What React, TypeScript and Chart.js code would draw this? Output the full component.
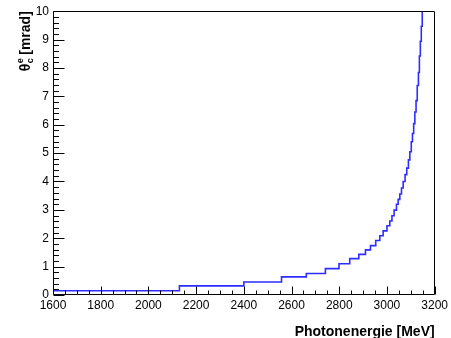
import React, { useEffect, useRef } from 'react';
import { Chart, registerables } from 'chart.js';

Chart.register(...registerables);

// Histogram bin edges (MeV) and the opening angle in each bin (mrad).
const binEdges = [
  1600, 2130, 2400, 2558, 2662, 2742, 2799, 2844, 2882, 2910, 2931, 2953, 2970, 2984,
  3000, 3012, 3021, 3030, 3040, 3047, 3054, 3061, 3068, 3076, 3083, 3090, 3096, 3102,
  3107, 3112, 3117, 3122, 3127, 3132, 3136, 3140, 3144, 3148, 3153,
];
const thetaValues = [
  0.15, 0.32, 0.46, 0.64, 0.76, 0.93, 1.1, 1.28, 1.43, 1.59, 1.74, 1.92, 2.09, 2.26,
  2.44, 2.61, 2.79, 2.99, 3.2, 3.37, 3.56, 3.77, 4.0, 4.24, 4.47, 4.76, 5.05, 5.4,
  5.69, 6.04, 6.45, 6.85, 7.38, 7.84, 8.42, 8.94, 9.47, 10.5,
];

const xRange = [1600, 3200];
const xMajorStep = 200;
const xMinorStep = 50;
const yRange = [0, 10];
const yMajorStep = 1;
const yMinorStep = 0.2;

const xTitle = 'Photonenergie [MeV]';
const yTitleSymbol = 'θ';
const yTitleSup = 'e';
const yTitleSub = 'c';
const yTitleUnit = ' [mrad]';

const FONT = "'Liberation Sans', Arial, Helvetica, sans-serif";

// Frame and inward-pointing tick marks on the bottom and left axes.
const framePlugin = {
  id: 'frameTicks',
  afterDatasetsDraw(chart: any) {
    const { ctx, chartArea: a, scales } = chart;
    const xs = scales.x;
    const ys = scales.y;
    const L = Math.round(a.left) + 0.5;
    const R = Math.round(a.right) - 0.5;
    const T = Math.round(a.top) + 0.5;
    const B = Math.round(a.bottom) - 0.5;
    ctx.save();
    ctx.strokeStyle = '#000';
    ctx.lineWidth = 1;
    ctx.beginPath();
    ctx.rect(L, T, R - L, B - T);
    const nx = Math.round((xRange[1] - xRange[0]) / xMinorStep);
    for (let i = 0; i <= nx; i++) {
      const v = xRange[0] + i * xMinorStep;
      const px = Math.round(xs.getPixelForValue(v)) + 0.5;
      const major = Math.abs((v - xRange[0]) % xMajorStep) < 1e-6;
      const len = major ? 8 : 4;
      ctx.moveTo(px, B);
      ctx.lineTo(px, B - len);
    }
    const ny = Math.round((yRange[1] - yRange[0]) / yMinorStep);
    for (let i = 0; i <= ny; i++) {
      const v = yRange[0] + i * yMinorStep;
      const py = Math.round(ys.getPixelForValue(v)) + 0.5;
      const major = i % Math.round(yMajorStep / yMinorStep) === 0;
      const len = major ? 11 : 5.5;
      ctx.moveTo(L, py);
      ctx.lineTo(L + len, py);
    }
    ctx.stroke();
    ctx.restore();
  },
  afterDraw(chart: any) {
    // Y axis title with super- and subscript on the theta.
    const { ctx, chartArea: a } = chart;
    const bigFont = `bold 14px ${FONT}`;
    const smallFont = `bold 9px ${FONT}`;
    ctx.save();
    ctx.font = bigFont;
    const wSym = ctx.measureText(yTitleSymbol).width;
    const wUnit = ctx.measureText(yTitleUnit).width;
    ctx.font = smallFont;
    const wIdx = Math.max(ctx.measureText(yTitleSup).width, ctx.measureText(yTitleSub).width);
    const total = wSym + wIdx + wUnit;
    const cx = 25;
    const endY = a.top;
    ctx.translate(cx, endY + total);
    ctx.rotate(-Math.PI / 2);
    ctx.fillStyle = '#000';
    ctx.textBaseline = 'alphabetic';
    ctx.textAlign = 'left';
    const base = 5;
    ctx.font = bigFont;
    ctx.fillText(yTitleSymbol, 0, base);
    ctx.font = smallFont;
    ctx.fillText(yTitleSup, wSym + 0.5, base - 7);
    ctx.fillText(yTitleSub, wSym + 0.5, base + 3);
    ctx.font = bigFont;
    ctx.fillText(yTitleUnit, wSym + wIdx, base);
    ctx.restore();
  },
};

export default function App() {
  const canvasRef = useRef<HTMLCanvasElement | null>(null);

  useEffect(() => {
    const canvas = canvasRef.current;
    if (!canvas) return;
    const n = thetaValues.length;
    // Each point opens a bin: the line stays at its value until the next edge.
    const points = binEdges.map((e, i) => ({ x: e, y: thetaValues[Math.min(i, n - 1)] }));

    const chart = new Chart(canvas, {
      type: 'line',
      data: {
        datasets: [
          {
            data: points,
            stepped: 'before',
            borderColor: 'rgb(45,45,255)',
            borderWidth: 1.6,
            pointRadius: 0,
            fill: false,
            clip: 0,
          } as any,
        ],
      },
      options: {
        animation: false,
        responsive: false,
        devicePixelRatio: 1,
        layout: { padding: { left: 0, right: 16, top: 8, bottom: 0 } },
        plugins: {
          legend: { display: false },
          tooltip: { enabled: false },
        },
        scales: {
          x: {
            type: 'linear',
            min: xRange[0],
            max: xRange[1],
            grid: { display: false, drawTicks: false },
            border: { display: false },
            ticks: {
              stepSize: xMajorStep,
              color: '#000',
              padding: 3,
              maxRotation: 0,
              autoSkip: false,
              font: { family: FONT, size: 12 },
              callback: (v: any) => String(v),
            },
            title: {
              display: true,
              text: xTitle,
              align: 'end',
              color: '#000',
              padding: { top: 0, bottom: 0 },
              font: { family: FONT, size: 14, weight: 'bold', lineHeight: 0.9 },
            },
            afterFit: (s: any) => {
              s.height = 43;
            },
          },
          y: {
            type: 'linear',
            min: yRange[0],
            max: yRange[1],
            grid: { display: false, drawTicks: false },
            border: { display: false },
            ticks: {
              stepSize: yMajorStep,
              color: '#000',
              padding: 4,
              autoSkip: false,
              font: { family: FONT, size: 12 },
              callback: (v: any) => String(v),
            },
            afterFit: (s: any) => {
              s.width = 53;
            },
          },
        },
      },
      plugins: [framePlugin],
    });
    return () => chart.destroy();
  }, []);

  return (
    <div style={{ position: 'fixed', left: 0, top: 0, width: 451, height: 338, background: '#fff' }}>
      <canvas ref={canvasRef} width={451} height={338} style={{ display: 'block' }} />
    </div>
  );
}
